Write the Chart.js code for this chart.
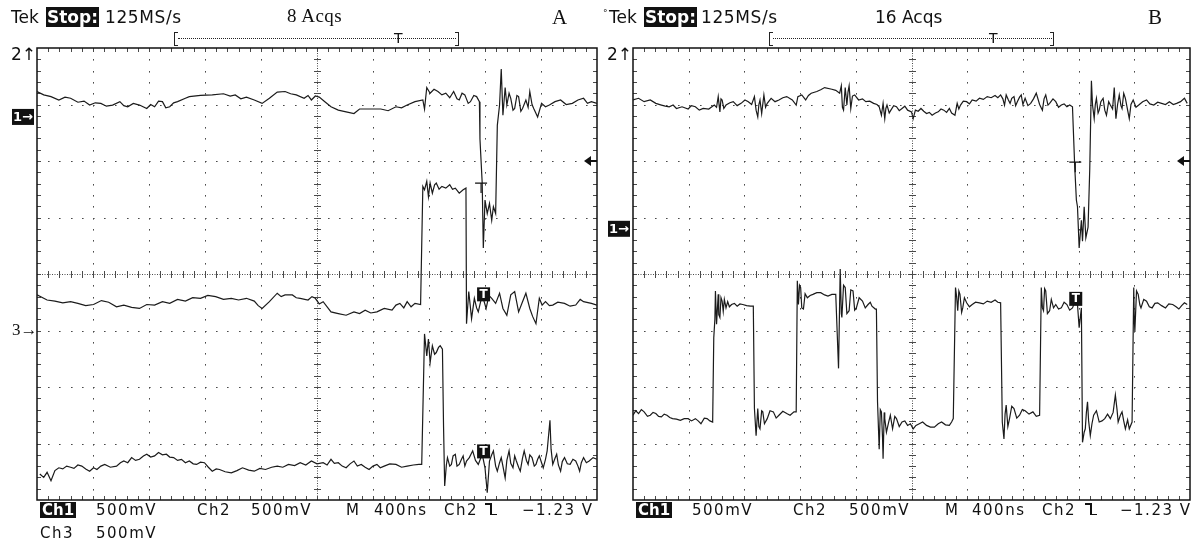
<!DOCTYPE html>
<html>
<head>
<meta charset="utf-8">
<script src="https://cdn.jsdelivr.net/npm/chart.js@4.4.1/dist/chart.umd.min.js"></script>
<style>
  body { margin: 0; background: #fff; width: 1198px; height: 539px; position: relative; overflow: hidden; color: #111; }
  canvas { position: absolute; top: 0; }
  .t { position: absolute; white-space: nowrap; font-family: "DejaVu Sans", sans-serif; font-size: 17px; line-height: 20px; }
  .ft { font-size: 15px; line-height: 16px; letter-spacing: 1.5px; }
  .inv { background: #111; color: #fff; font-weight: bold; letter-spacing: 0; }
  .serif { font-family: "Liberation Serif", serif; }
  .bar { position: absolute; height: 0; border-top: 1px dotted #222; }
  .brk { position: absolute; width: 3px; height: 12px; border: 1px solid #222; border-right: none; }
  .brk.r { border-left: none; border-right: 1px solid #222; }
  .edge { position: absolute; width: 13px; height: 13px; }
  .edge i { position: absolute; background: #111; }
</style>
</head>
<body>

<canvas id="chartA" width="600" height="539" style="left:0"></canvas>
<canvas id="chartB" width="598" height="539" style="left:600px"></canvas>

<!-- panel A header -->
<div class="t" style="left:11px;top:7px">Tek</div>
<div class="t inv" style="left:46px;top:7px;padding:0 1px">Stop:</div>
<div class="t" style="left:105px;top:7px;letter-spacing:0.6px">125MS/s</div>
<div class="t serif" style="left:287px;top:6px;font-size:19px;letter-spacing:0.5px">8 Acqs</div>
<div class="t serif" style="left:552px;top:5px;font-size:21px;line-height:24px">A</div>
<div class="brk" style="left:174px;top:32px"></div>
<div class="bar" style="left:178px;top:38px;width:278px"></div>
<div class="brk r" style="left:455px;top:32px"></div>
<div class="t" style="left:394px;top:28px;font-size:14px">T</div>

<!-- panel B header -->
<div class="t" style="left:603px;top:3px;font-size:9px">°</div>
<div class="t" style="left:609px;top:7px">Tek</div>
<div class="t inv" style="left:644px;top:7px;padding:0 1px">Stop:</div>
<div class="t" style="left:701px;top:7px;letter-spacing:0.6px">125MS/s</div>
<div class="t" style="left:875px;top:7px">16 Acqs</div>
<div class="t serif" style="left:1148px;top:5px;font-size:21px;line-height:24px">B</div>
<div class="brk" style="left:769px;top:32px"></div>
<div class="bar" style="left:773px;top:38px;width:279px"></div>
<div class="brk r" style="left:1050px;top:32px"></div>
<div class="t" style="left:989px;top:28px;font-size:14px">T</div>

<!-- panel A footer -->
<div class="t ft inv" style="left:40px;top:502px;padding:0 2px">Ch1</div>
<div class="t ft" style="left:96px;top:502px">500mV</div>
<div class="t ft" style="left:197px;top:502px">Ch2</div>
<div class="t ft" style="left:251px;top:502px">500mV</div>
<div class="t ft" style="left:346px;top:502px">M</div>
<div class="t ft" style="left:374px;top:502px">400ns</div>
<div class="t ft" style="left:444px;top:502px">Ch2</div>
<div class="edge" style="left:485px;top:503px"><i style="left:0;top:0;width:6px;height:1.5px"></i><i style="left:5px;top:0;width:1.5px;height:12px"></i><i style="left:5px;top:10.5px;width:7px;height:1.5px"></i></div>
<div class="t ft" style="left:522px;top:502px">−1.23 V</div>
<div class="t ft" style="left:40px;top:525px">Ch3</div>
<div class="t ft" style="left:96px;top:525px">500mV</div>

<!-- panel B footer -->
<div class="t ft inv" style="left:636px;top:502px;padding:0 2px">Ch1</div>
<div class="t ft" style="left:692px;top:502px">500mV</div>
<div class="t ft" style="left:793px;top:502px">Ch2</div>
<div class="t ft" style="left:849px;top:502px">500mV</div>
<div class="t ft" style="left:945px;top:502px">M</div>
<div class="t ft" style="left:972px;top:502px">400ns</div>
<div class="t ft" style="left:1042px;top:502px">Ch2</div>
<div class="edge" style="left:1085px;top:503px"><i style="left:0;top:0;width:6px;height:1.5px"></i><i style="left:5px;top:0;width:1.5px;height:12px"></i><i style="left:5px;top:10.5px;width:7px;height:1.5px"></i></div>
<div class="t ft" style="left:1120px;top:502px">−1.23 V</div>

<script>
// x in divisions (400 ns/div), y in divisions (500 mV/div), 10 x 8 graticule
const traceA1 = [[0,7.23],[0.12,7.17],[0.25,7.14],[0.39,7.08],[0.50,7.13],[0.60,7.11],[0.73,7.04],[0.84,7.06],[0.94,6.99],[1.04,7.03],[1.14,7.02],[1.24,6.97],[1.35,6.99],[1.48,7.05],[1.55,6.98],[1.62,6.96],[1.72,7.02],[1.83,6.99],[1.96,6.93],[2.03,7.00],[2.10,6.96],[2.17,7.06],[2.24,7.05],[2.30,6.94],[2.37,6.96],[2.44,7.03],[2.51,7.05],[2.65,7.11],[2.72,7.14],[2.92,7.16],[3.13,7.17],[3.33,7.19],[3.45,7.15],[3.54,7.17],[3.64,7.10],[3.74,7.13],[3.88,7.08],[4.02,7.02],[4.15,7.11],[4.29,7.22],[4.43,7.23],[4.53,7.19],[4.63,7.17],[4.77,7.11],[4.84,7.16],[4.90,7.08],[4.97,7.15],[5.04,7.13],[5.14,7.05],[5.25,6.96],[5.38,6.90],[5.52,6.87],[5.66,6.84],[5.76,6.92],[5.93,6.92],[6.14,6.92],[6.27,6.89],[6.41,6.96],[6.51,6.94],[6.61,6.99],[6.75,7.05],[6.89,7.08],[6.92,6.92],[6.96,7.30],[7.02,7.20],[7.09,7.27],[7.16,7.23],[7.23,7.17],[7.30,7.20],[7.37,7.12],[7.44,7.23],[7.50,7.10],[7.54,7.08],[7.59,7.20],[7.64,7.17],[7.70,7.02],[7.74,7.05],[7.80,7.16],[7.85,7.14],[7.90,7.05],[7.91,6.39],[7.95,5.61],[7.97,4.46],[8.00,5.31],[8.04,5.07],[8.08,5.25],[8.12,4.95],[8.15,5.19],[8.19,5.07],[8.22,6.63],[8.26,6.99],[8.29,7.63],[8.32,6.81],[8.36,7.30],[8.39,6.99],[8.43,7.20],[8.46,7.11],[8.50,6.90],[8.53,6.93],[8.57,7.16],[8.60,7.14],[8.64,6.88],[8.67,6.93],[8.73,7.08],[8.77,6.95],[8.80,7.23],[8.84,7.00],[8.87,6.93],[8.94,6.78],[9.01,7.02],[9.08,6.96],[9.15,6.99],[9.25,7.05],[9.35,7.08],[9.45,7.00],[9.56,7.02],[9.66,7.08],[9.76,7.11],[9.83,7.02],[9.90,7.05],[10,7.02]];
const traceA2 = [[0,3.63],[0.18,3.54],[0.32,3.52],[0.46,3.49],[0.60,3.51],[0.73,3.48],[0.87,3.44],[1.01,3.46],[1.15,3.53],[1.28,3.50],[1.42,3.42],[1.55,3.45],[1.69,3.41],[1.83,3.39],[1.96,3.46],[2.10,3.45],[2.24,3.51],[2.37,3.48],[2.51,3.55],[2.65,3.52],[2.78,3.58],[2.92,3.57],[3.05,3.62],[3.19,3.60],[3.33,3.55],[3.47,3.57],[3.60,3.54],[3.74,3.57],[3.88,3.52],[3.95,3.44],[4.02,3.39],[4.15,3.51],[4.29,3.66],[4.36,3.60],[4.43,3.63],[4.56,3.63],[4.63,3.58],[4.70,3.57],[4.84,3.54],[4.91,3.60],[4.97,3.57],[5.04,3.47],[5.11,3.51],[5.25,3.33],[5.38,3.30],[5.52,3.27],[5.66,3.33],[5.76,3.30],[5.86,3.36],[5.96,3.31],[6.07,3.33],[6.20,3.39],[6.34,3.36],[6.41,3.45],[6.48,3.48],[6.55,3.40],[6.61,3.51],[6.68,3.42],[6.75,3.48],[6.85,3.46],[6.89,5.55],[6.92,5.49],[6.96,5.64],[6.99,5.37],[7.02,5.61],[7.06,5.43],[7.10,5.58],[7.13,5.61],[7.18,5.50],[7.23,5.55],[7.30,5.52],[7.37,5.58],[7.42,5.50],[7.47,5.52],[7.54,5.43],[7.61,5.49],[7.66,5.52],[7.67,3.12],[7.71,3.69],[7.76,3.21],[7.81,3.57],[7.85,3.40],[7.88,3.33],[7.95,3.63],[8.02,3.39],[8.07,3.62],[8.12,3.57],[8.19,3.48],[8.26,3.66],[8.32,3.39],[8.39,3.27],[8.46,3.63],[8.53,3.69],[8.60,3.33],[8.67,3.51],[8.73,3.66],[8.80,3.39],[8.85,3.25],[8.91,3.12],[8.97,3.57],[9.02,3.45],[9.08,3.51],[9.15,3.44],[9.21,3.45],[9.30,3.50],[9.42,3.48],[9.52,3.43],[9.62,3.45],[9.70,3.55],[9.76,3.51],[9.90,3.48],[10,3.45]];
const traceA3 = [[0.05,0.46],[0.12,0.40],[0.18,0.49],[0.25,0.34],[0.32,0.52],[0.39,0.57],[0.46,0.55],[0.53,0.60],[0.60,0.58],[0.66,0.56],[0.73,0.62],[0.80,0.60],[0.87,0.55],[0.94,0.51],[1.01,0.57],[1.07,0.54],[1.14,0.60],[1.21,0.63],[1.31,0.58],[1.42,0.60],[1.49,0.66],[1.55,0.69],[1.62,0.66],[1.69,0.75],[1.76,0.70],[1.83,0.72],[1.90,0.78],[1.96,0.81],[2.03,0.76],[2.10,0.78],[2.17,0.84],[2.24,0.80],[2.31,0.81],[2.37,0.76],[2.44,0.75],[2.51,0.70],[2.58,0.72],[2.65,0.66],[2.72,0.69],[2.79,0.64],[2.85,0.63],[2.92,0.67],[2.99,0.66],[3.06,0.58],[3.13,0.51],[3.20,0.55],[3.26,0.54],[3.36,0.50],[3.47,0.48],[3.57,0.52],[3.67,0.57],[3.78,0.53],[3.88,0.51],[3.98,0.56],[4.08,0.54],[4.19,0.58],[4.29,0.60],[4.39,0.58],[4.49,0.63],[4.60,0.61],[4.70,0.66],[4.80,0.62],[4.90,0.69],[5.00,0.64],[5.11,0.66],[5.18,0.62],[5.25,0.72],[5.31,0.65],[5.38,0.66],[5.45,0.60],[5.52,0.57],[5.59,0.64],[5.66,0.69],[5.72,0.60],[5.79,0.63],[5.86,0.58],[5.93,0.54],[6.00,0.60],[6.07,0.63],[6.13,0.57],[6.20,0.60],[6.30,0.64],[6.41,0.63],[6.51,0.58],[6.61,0.60],[6.72,0.62],[6.82,0.63],[6.87,0.63],[6.92,2.94],[6.96,2.55],[6.99,2.85],[7.02,2.43],[7.06,2.73],[7.10,2.58],[7.13,2.61],[7.17,2.70],[7.20,2.73],[7.24,2.67],[7.26,1.29],[7.28,0.25],[7.31,0.62],[7.33,0.75],[7.37,0.60],[7.40,0.63],[7.43,0.78],[7.47,0.81],[7.50,0.60],[7.54,0.63],[7.58,0.72],[7.61,0.78],[7.64,0.60],[7.67,0.69],[7.72,0.75],[7.78,0.87],[7.83,0.70],[7.88,0.63],[7.95,0.81],[8.00,0.57],[8.04,0.13],[8.08,0.69],[8.12,0.80],[8.15,0.87],[8.19,0.60],[8.22,0.51],[8.26,0.66],[8.29,0.75],[8.32,0.60],[8.36,0.39],[8.39,0.70],[8.43,0.87],[8.46,0.65],[8.50,0.57],[8.53,0.78],[8.56,0.69],[8.60,0.58],[8.63,0.51],[8.67,0.74],[8.70,0.87],[8.74,0.70],[8.77,0.63],[8.80,0.80],[8.84,0.75],[8.88,0.60],[8.91,0.63],[8.94,0.72],[8.97,0.78],[9.01,0.66],[9.04,0.57],[9.08,0.72],[9.11,0.87],[9.16,1.41],[9.18,0.90],[9.21,0.63],[9.25,0.74],[9.28,0.81],[9.31,0.62],[9.35,0.51],[9.38,0.68],[9.42,0.75],[9.47,0.64],[9.52,0.63],[9.57,0.72],[9.62,0.69],[9.66,0.60],[9.69,0.51],[9.72,0.66],[9.76,0.75],[9.81,0.66],[9.86,0.69],[9.93,0.75],[10,0.72]];

const traceB1 = [[0,7.08],[0.10,7.11],[0.20,7.05],[0.31,7.08],[0.41,7.02],[0.51,6.99],[0.58,6.97],[0.65,6.96],[0.72,6.99],[0.78,6.93],[0.88,6.96],[0.99,6.92],[1.05,6.98],[1.12,6.96],[1.19,6.90],[1.26,6.93],[1.36,6.92],[1.46,6.99],[1.50,6.95],[1.53,7.14],[1.56,6.87],[1.58,7.10],[1.60,7.08],[1.63,6.93],[1.67,6.99],[1.74,7.03],[1.80,7.05],[1.87,6.98],[1.94,7.02],[2.01,7.08],[2.07,7.05],[2.13,7.00],[2.18,7.14],[2.21,6.90],[2.24,6.78],[2.26,7.00],[2.28,7.08],[2.31,6.84],[2.35,7.17],[2.38,6.95],[2.41,7.02],[2.48,7.11],[2.55,7.05],[2.62,7.08],[2.69,7.12],[2.76,7.14],[2.86,7.08],[2.93,6.99],[2.96,7.14],[3.03,7.17],[3.10,7.08],[3.15,7.16],[3.20,7.20],[3.30,7.23],[3.37,7.26],[3.44,7.30],[3.57,7.27],[3.64,7.25],[3.71,7.20],[3.74,7.33],[3.76,6.95],[3.78,6.90],[3.81,7.30],[3.84,6.99],[3.86,7.22],[3.88,7.33],[3.91,6.93],[3.94,7.15],[3.98,7.17],[4.05,7.08],[4.12,7.10],[4.18,7.05],[4.25,7.06],[4.32,7.02],[4.38,7.00],[4.42,6.96],[4.46,6.81],[4.49,7.02],[4.52,6.75],[4.54,6.93],[4.56,6.99],[4.60,6.85],[4.63,6.90],[4.68,6.98],[4.73,6.96],[4.78,6.89],[4.83,6.93],[4.88,6.97],[4.93,6.90],[5.00,6.87],[5.03,6.75],[5.07,6.90],[5.12,6.88],[5.17,6.93],[5.22,6.88],[5.27,6.84],[5.32,6.86],[5.37,6.81],[5.43,6.85],[5.48,6.87],[5.53,6.92],[5.58,6.90],[5.63,6.86],[5.68,6.93],[5.72,6.85],[5.78,6.81],[5.82,7.02],[5.85,6.92],[5.88,6.99],[5.93,7.06],[5.99,7.05],[6.04,7.01],[6.09,7.08],[6.16,7.06],[6.22,7.11],[6.29,7.09],[6.36,7.14],[6.43,7.12],[6.50,7.16],[6.55,7.12],[6.60,7.17],[6.64,7.10],[6.67,6.99],[6.70,7.17],[6.74,7.08],[6.77,7.02],[6.80,7.11],[6.84,7.14],[6.87,6.98],[6.90,7.05],[6.94,7.13],[6.97,7.17],[7.00,7.00],[7.04,7.11],[7.09,6.98],[7.14,7.02],[7.19,7.10],[7.24,7.20],[7.30,7.00],[7.35,6.90],[7.38,7.10],[7.41,7.17],[7.45,6.99],[7.48,7.02],[7.54,7.10],[7.59,7.05],[7.64,6.95],[7.69,6.99],[7.74,7.01],[7.79,6.96],[7.84,6.99],[7.89,6.96],[7.93,5.91],[7.96,5.31],[7.98,5.19],[8.01,4.46],[8.05,4.95],[8.07,4.58],[8.10,5.19],[8.13,4.64],[8.17,4.83],[8.20,5.85],[8.23,7.42],[8.25,6.99],[8.28,6.75],[8.30,7.00],[8.32,7.11],[8.35,6.85],[8.37,6.90],[8.40,7.05],[8.44,7.11],[8.47,6.90],[8.50,6.81],[8.54,7.05],[8.57,6.99],[8.61,6.92],[8.64,7.30],[8.67,6.75],[8.70,7.00],[8.73,7.17],[8.76,6.98],[8.78,6.93],[8.81,7.20],[8.84,7.11],[8.88,6.90],[8.91,6.75],[8.94,7.00],[8.98,7.08],[9.03,6.95],[9.08,6.99],[9.15,7.05],[9.22,7.08],[9.28,7.01],[9.35,6.99],[9.42,7.04],[9.49,7.02],[9.56,7.00],[9.63,7.05],[9.70,7.00],[9.76,7.02],[9.83,7.05],[9.90,7.11],[9.95,7.02]];
const traceB2 = [[0,1.50],[0.05,1.58],[0.10,1.53],[0.15,1.60],[0.20,1.56],[0.26,1.48],[0.31,1.50],[0.36,1.55],[0.41,1.53],[0.46,1.48],[0.51,1.47],[0.56,1.52],[0.61,1.50],[0.66,1.46],[0.71,1.44],[0.78,1.43],[0.85,1.41],[0.92,1.44],[0.99,1.44],[1.05,1.40],[1.12,1.44],[1.17,1.40],[1.22,1.35],[1.28,1.45],[1.33,1.44],[1.38,1.40],[1.43,1.38],[1.45,2.87],[1.47,3.20],[1.48,3.70],[1.50,3.11],[1.53,3.64],[1.54,3.28],[1.56,3.23],[1.58,3.58],[1.60,3.52],[1.62,3.34],[1.64,3.55],[1.67,3.40],[1.70,3.51],[1.73,3.42],[1.77,3.46],[1.82,3.48],[1.87,3.43],[1.92,3.47],[1.97,3.46],[2.04,3.44],[2.11,3.43],[2.16,3.43],[2.18,1.62],[2.21,1.14],[2.24,1.62],[2.26,1.30],[2.28,1.26],[2.31,1.58],[2.33,1.56],[2.36,1.35],[2.41,1.44],[2.46,1.58],[2.52,1.56],[2.57,1.45],[2.62,1.50],[2.69,1.57],[2.76,1.53],[2.82,1.50],[2.89,1.56],[2.93,1.56],[2.95,3.88],[2.97,3.46],[2.99,3.80],[3.01,3.76],[3.03,3.40],[3.06,3.38],[3.09,3.65],[3.13,3.58],[3.18,3.62],[3.23,3.64],[3.30,3.67],[3.37,3.67],[3.44,3.63],[3.50,3.61],[3.57,3.64],[3.64,3.64],[3.69,2.33],[3.72,4.09],[3.74,3.30],[3.75,3.23],[3.78,3.80],[3.81,3.76],[3.84,3.30],[3.88,3.35],[3.91,3.72],[3.95,3.70],[3.98,3.36],[4.01,3.40],[4.06,3.58],[4.12,3.52],[4.17,3.40],[4.22,3.46],[4.26,3.50],[4.29,3.43],[4.35,3.38],[4.37,3.38],[4.39,1.74],[4.42,0.90],[4.44,1.60],[4.46,1.56],[4.48,1.10],[4.49,0.73],[4.51,1.55],[4.52,1.44],[4.55,1.20],[4.59,1.38],[4.62,1.50],[4.66,1.26],[4.70,1.48],[4.73,1.44],[4.78,1.30],[4.83,1.38],[4.88,1.40],[4.93,1.32],[4.98,1.35],[5.03,1.26],[5.08,1.32],[5.14,1.35],[5.20,1.38],[5.27,1.32],[5.34,1.29],[5.41,1.29],[5.48,1.35],[5.54,1.38],[5.61,1.33],[5.68,1.32],[5.72,1.38],[5.75,1.44],[5.79,3.76],[5.81,3.60],[5.83,3.35],[5.85,3.70],[5.87,3.64],[5.90,3.32],[5.92,3.40],[5.95,3.58],[5.99,3.49],[6.04,3.42],[6.09,3.46],[6.15,3.50],[6.22,3.49],[6.29,3.47],[6.36,3.52],[6.43,3.50],[6.50,3.54],[6.55,3.50],[6.60,3.49],[6.63,1.38],[6.66,1.08],[6.68,1.52],[6.70,1.68],[6.73,1.30],[6.76,1.44],[6.80,1.66],[6.84,1.62],[6.89,1.45],[6.94,1.50],[6.99,1.60],[7.04,1.58],[7.11,1.52],[7.18,1.56],[7.24,1.48],[7.30,1.50],[7.33,3.76],[7.35,3.40],[7.37,3.35],[7.39,3.74],[7.41,3.70],[7.44,3.30],[7.48,3.35],[7.51,3.55],[7.55,3.40],[7.59,3.46],[7.64,3.38],[7.69,3.40],[7.74,3.50],[7.79,3.46],[7.84,3.36],[7.89,3.40],[7.94,3.52],[7.98,3.46],[8.01,3.05],[8.05,3.40],[8.07,1.02],[8.10,1.20],[8.12,1.26],[8.14,1.55],[8.16,1.74],[8.18,1.40],[8.21,1.14],[8.24,1.35],[8.27,1.50],[8.32,1.58],[8.37,1.38],[8.42,1.40],[8.47,1.44],[8.52,1.52],[8.57,1.44],[8.62,1.55],[8.66,1.86],[8.69,1.60],[8.71,1.38],[8.75,1.50],[8.78,1.56],[8.81,1.40],[8.84,1.26],[8.88,1.42],[8.91,1.26],[8.96,1.38],[8.99,3.76],[9.00,3.20],[9.01,2.99],[9.04,3.70],[9.07,3.64],[9.10,3.45],[9.12,3.40],[9.17,3.55],[9.22,3.52],[9.27,3.42],[9.32,3.40],[9.37,3.48],[9.42,3.49],[9.49,3.44],[9.56,3.40],[9.62,3.47],[9.69,3.46],[9.75,3.42],[9.80,3.38],[9.85,3.44],[9.90,3.49],[9.95,3.46]];

// marker levels (divisions)
const groundA = { ch1: 6.78, ch3: 3.0 };
const groundB = { ch1: 4.80 };
const trigLevel = 6.0;
const trigPosA = { x: 7.93, mid: 3.64, low: 0.86, top: 5.61 };
const trigPosB = { x: 7.94, low: 3.56, top: 5.98 };

const INK = '#1b1b1b';

const graticule = {
  id: 'graticule',
  beforeDatasetsDraw(chart) {
    const { ctx, chartArea: a, scales: { x, y } } = chart;
    ctx.save();
    ctx.fillStyle = '#4a4a4a';
    // dotted major lines
    for (let i = 1; i < 10; i++) {
      if (i === 5) continue;
      const px = Math.round(x.getPixelForValue(i));
      for (let k = 1; k < 40; k++) {
        ctx.fillRect(px, Math.round(y.getPixelForValue(k * 0.2)), 1, 1.6);
      }
    }
    for (let j = 1; j < 8; j++) {
      if (j === 4) continue;
      const py = Math.round(y.getPixelForValue(j));
      for (let k = 1; k < 50; k++) {
        ctx.fillRect(Math.round(x.getPixelForValue(k * 0.2)), py, 1.6, 1);
      }
    }
    // centre cross: fine dots plus minor ticks
    const cx = Math.round(x.getPixelForValue(5));
    const cy = Math.round(y.getPixelForValue(4));
    for (let p = a.top; p < a.bottom; p += 2.5) ctx.fillRect(cx, p, 1, 1);
    for (let p = a.left; p < a.right; p += 2.5) ctx.fillRect(p, cy, 1, 1);
    for (let k = 1; k < 40; k++) {
      const py = Math.round(y.getPixelForValue(k * 0.2));
      ctx.fillRect(cx - 3, py, 7, 1);
      ctx.fillRect(a.left, py, 4, 1);
      ctx.fillRect(a.right - 4, py, 4, 1);
    }
    for (let k = 1; k < 50; k++) {
      const px = Math.round(x.getPixelForValue(k * 0.2));
      ctx.fillRect(px, cy - 3, 1, 7);
      ctx.fillRect(px, a.top, 1, 4);
      ctx.fillRect(px, a.bottom - 4, 1, 4);
    }
    ctx.strokeStyle = '#111';
    ctx.lineWidth = 1.5;
    ctx.strokeRect(a.left, a.top, a.width, a.height);
    ctx.restore();
  }
};

function drawTBox(ctx, px, py) {
  ctx.fillStyle = '#111';
  ctx.fillRect(px - 6, py - 7, 13, 14);
  ctx.fillStyle = '#fff';
  ctx.font = 'bold 12px "DejaVu Sans"';
  ctx.textAlign = 'center';
  ctx.textBaseline = 'middle';
  ctx.fillText('T', px + 0.5, py + 0.5);
}

function drawTrigTick(ctx, px, py) {
  ctx.strokeStyle = '#111';
  ctx.lineWidth = 1.2;
  ctx.beginPath();
  ctx.moveTo(px - 6, py); ctx.lineTo(px + 6, py);
  ctx.moveTo(px, py); ctx.lineTo(px, py + 10);
  ctx.stroke();
}

function drawLevelArrow(ctx, a, py) {
  ctx.fillStyle = '#111';
  ctx.beginPath();
  ctx.moveTo(a.right - 13, py);
  ctx.lineTo(a.right - 6, py - 5);
  ctx.lineTo(a.right - 6, py + 5);
  ctx.closePath();
  ctx.fill();
  ctx.fillRect(a.right - 7, py - 1, 7, 2);
}

function drawGroundBox(ctx, a, py, label) {
  ctx.fillStyle = '#111';
  ctx.fillRect(a.left - 25, py - 8, 22, 16);
  ctx.fillStyle = '#fff';
  ctx.font = 'bold 13px "DejaVu Sans"';
  ctx.textAlign = 'left';
  ctx.textBaseline = 'middle';
  ctx.fillText(label + '→', a.left - 24, py + 1);
}

function markers(side) {
  return {
    id: 'markers' + side,
    afterDatasetsDraw(chart) {
      const { ctx, chartArea: a, scales: { x, y } } = chart;
      ctx.save();
      ctx.fillStyle = '#111';
      ctx.font = '17px "DejaVu Sans"';
      ctx.textAlign = 'left';
      ctx.textBaseline = 'middle';
      ctx.fillText('2↑', a.left - 26, a.top + 8);
      drawLevelArrow(ctx, a, y.getPixelForValue(trigLevel));
      if (side === 'A') {
        drawGroundBox(ctx, a, y.getPixelForValue(groundA.ch1), '1');
        ctx.fillStyle = '#111';
        ctx.font = '17px "Liberation Serif"';
        ctx.fillText('3→', a.left - 25, y.getPixelForValue(groundA.ch3));
        const tx = x.getPixelForValue(trigPosA.x);
        drawTrigTick(ctx, tx, y.getPixelForValue(trigPosA.top));
        drawTBox(ctx, tx + 2, y.getPixelForValue(trigPosA.mid));
        drawTBox(ctx, tx + 2, y.getPixelForValue(trigPosA.low));
      } else {
        drawGroundBox(ctx, a, y.getPixelForValue(groundB.ch1), '1');
        const tx = x.getPixelForValue(trigPosB.x);
        drawTrigTick(ctx, tx, y.getPixelForValue(trigPosB.top));
        drawTBox(ctx, tx, y.getPixelForValue(trigPosB.low));
      }
      ctx.restore();
    }
  };
}

function traceSet(points) {
  return {
    data: points.map(p => ({ x: p[0], y: p[1] })),
    borderColor: INK,
    borderWidth: 1.2,
    pointRadius: 0,
    tension: 0,
    fill: false
  };
}

function makeScope(id, traces, pad, side) {
  return new Chart(document.getElementById(id), {
    type: 'line',
    data: { datasets: traces.map(traceSet) },
    options: {
      responsive: false,
      animation: false,
      layout: { padding: pad },
      plugins: { legend: { display: false }, tooltip: { enabled: false } },
      scales: {
        x: { type: 'linear', min: 0, max: 10, display: false },
        y: { type: 'linear', min: 0, max: 8, display: false }
      }
    },
    plugins: [graticule, markers(side)]
  });
}

makeScope('chartA', [traceA1, traceA2, traceA3], { left: 37, right: 3, top: 48, bottom: 39 }, 'A');
makeScope('chartB', [traceB1, traceB2], { left: 33, right: 8, top: 48, bottom: 39 }, 'B');
</script>
</body>
</html>
